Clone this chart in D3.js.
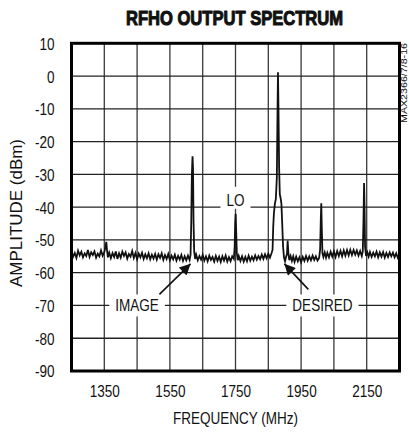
<!DOCTYPE html>
<html><head><meta charset="utf-8">
<script src="https://cdn.jsdelivr.net/npm/d3@7"></script>
<style>
html,body{margin:0;padding:0;background:#fff;}
svg{display:block;}
text{font-family:"Liberation Sans",Arial,sans-serif;fill:#111;}
</style></head>
<body>
<svg id="c" width="409" height="432"></svg>
<script>
// ---- data ----
const title = "RFHO OUTPUT SPECTRUM";
const xTitle = "FREQUENCY (MHz)";
const yTitle = "AMPLITUDE (dBm)";
const partNo = "MAX2366/7/8-16";
const xDomain = [1250, 2250];
const yDomain = [-90, 10];
const xTickLabels = [1350, 1550, 1750, 1950, 2150];
const xGrid = [1350, 1450, 1550, 1650, 1750, 1850, 1950, 2050, 2150];
const yTickLabels = [10, 0, -10, -20, -30, -40, -50, -60, -70, -80, -90];
const yGrid = [0, -10, -20, -30, -40, -50, -60, -70, -80];
// spectrum trace [MHz, dBm]
const spectrum = [
[1250,-53.4],[1255,-55.1],[1260,-54.0],[1265,-55.5],[1270,-53.3],[1275,-54.7],[1280,-53.6],[1285,-55.3],
[1290,-54.1],[1295,-54.9],[1300,-53.1],[1305,-55.2],[1310,-53.8],[1315,-54.6],[1320,-53.5],[1325,-55.4],
[1330,-54.2],[1335,-55.0],[1340,-53.2],[1345,-54.8],[1350,-53.7],[1353,-52.5],[1356,-50.6],[1358,-52.9],
[1361,-55.3],[1365,-53.9],[1370,-55.6],[1375,-54.0],[1380,-55.2],[1385,-53.5],[1390,-55.8],[1395,-54.1],
[1400,-55.4],[1405,-53.6],[1410,-54.9],[1415,-53.8],[1420,-55.7],[1425,-54.3],[1430,-55.1],[1435,-53.4],
[1440,-55.5],[1445,-54.0],[1450,-55.9],[1455,-54.2],[1460,-55.3],[1465,-53.9],[1470,-55.8],[1475,-54.4],
[1480,-55.6],[1485,-54.1],[1490,-55.9],[1495,-54.5],[1500,-55.7],[1505,-54.3],[1510,-56.0],[1515,-54.4],
[1520,-55.5],[1525,-54.1],[1530,-56.1],[1535,-54.6],[1540,-55.8],[1545,-54.3],[1550,-56.2],[1555,-54.8],
[1560,-55.9],[1565,-54.5],[1570,-56.3],[1575,-54.9],[1580,-56.0],[1585,-54.6],[1590,-56.4],[1595,-55.0],
[1600,-56.2],[1605,-54.8],[1610,-56.1],[1613,-54.5],[1615,-45],[1617,-30],[1619,-24.5],[1620.5,-28],
[1622,-44],[1624,-53.5],[1627,-55.8],[1630,-54.5],[1635,-56.2],[1640,-54.9],[1645,-56.0],[1650,-54.6],
[1655,-56.3],[1660,-55.0],[1665,-56.5],[1670,-54.8],[1675,-56.1],[1680,-55.2],[1685,-56.6],[1690,-54.9],
[1695,-56.4],[1700,-55.1],[1705,-56.7],[1710,-55.0],[1715,-56.3],[1720,-54.8],[1725,-56.6],[1730,-55.3],
[1735,-56.5],[1740,-55.0],[1745,-55.8],[1747.5,-52],[1749,-45],[1750.5,-42],[1752,-47],[1754,-54],
[1757,-56.2],[1760,-54.9],[1765,-56.4],[1770,-55.0],[1775,-56.6],[1780,-55.2],[1785,-56.5],[1790,-54.8],
[1795,-56.3],[1800,-55.1],[1805,-56.2],[1810,-54.7],[1815,-56.0],[1820,-54.9],[1825,-55.9],[1830,-54.5],
[1835,-55.8],[1840,-54.4],[1845,-55.6],[1850,-54.2],[1855,-55.4],[1860,-54.0],[1863,-53],[1865,-46],
[1867,-42],[1870,-39],[1873,-37.5],[1876,-31],[1878,-12],[1879.5,1.2],[1881,-10],[1883,-28],
[1885,-36],[1888,-37.5],[1890,-39],[1892,-44],[1895,-52],[1898,-55.5],[1901,-56.5],[1904,-55.2],
[1907,-54.3],[1909,-50.2],[1911,-53.8],[1914,-56.2],[1918,-54.9],[1922,-56.4],[1926,-55.0],[1930,-56.7],
[1935,-55.1],[1940,-56.5],[1945,-55.3],[1950,-56.8],[1955,-55.2],[1960,-56.4],[1965,-54.9],[1970,-56.3],
[1975,-55.0],[1980,-56.2],[1985,-54.8],[1990,-56.1],[1995,-55.0],[2000,-56.3],[2005,-55.5],[2008,-53],
[2010,-44],[2011.5,-38.8],[2013,-46],[2015,-54],[2018,-55.2],[2022,-53.8],[2026,-55.4],[2030,-53.9],
[2035,-55.3],[2040,-53.6],[2045,-55.1],[2050,-53.5],[2055,-55.2],[2060,-53.4],[2065,-54.9],[2070,-53.3],
[2075,-55.0],[2080,-53.2],[2085,-54.8],[2090,-53.1],[2095,-54.7],[2100,-53.0],[2105,-54.6],[2110,-53.1],
[2115,-54.5],[2120,-53.2],[2125,-54.8],[2130,-53.4],[2135,-54.9],[2138,-53.5],[2140,-45],[2142,-32.6],
[2143.5,-40],[2145,-52],[2148,-54.9],[2152,-53.8],[2156,-55.1],[2160,-53.7],[2165,-55.2],[2170,-53.9],
[2175,-55.0],[2180,-53.6],[2185,-55.3],[2190,-53.8],[2195,-55.1],[2200,-53.7],[2205,-55.4],[2210,-54.0],
[2215,-55.2],[2220,-53.8],[2225,-55.0],[2230,-53.9],[2235,-55.3],[2240,-54.1],[2245,-55.5],[2250,-54.6]
];
// annotations: label, label centre [MHz,dBm], arrow tail/tip [MHz,dBm]
const annotations = [
  {text:"IMAGE",   at:[1450,-70], tail:[1518,-66.6], tip:[1613,-57.3]},
  {text:"DESIRED", at:[2015,-70], tail:[1972,-65.1], tip:[1899,-57.3]},
  {text:"LO",      at:[1750,-37.9]}
];

// ---- chart ----
const svg = d3.select("#c");
const L = 71.5, R = 399.5, T = 43.3, B = 371;
const x = d3.scaleLinear().domain(xDomain).range([L, R]);
const y = d3.scaleLinear().domain(yDomain).range([B, T]);
const NARROW = 0.82;
function narrow(sel, len) {
  sel.each(function() {
    const w = len || this.getComputedTextLength() * NARROW;
    d3.select(this).attr("textLength", w).attr("lengthAdjust", "spacingAndGlyphs");
  });
}

// grid
const g = svg.append("g");
g.selectAll("line.v").data(xGrid).join("line")
  .attr("x1", d=>x(d)).attr("x2", d=>x(d)).attr("y1", T).attr("y2", B)
  .attr("stroke", "#3a3a3a").attr("stroke-width", 1.3);
g.selectAll("line.h").data(yGrid).join("line")
  .attr("y1", d=>y(d)).attr("y2", d=>y(d)).attr("x1", L).attr("x2", R)
  .attr("stroke", "#222").attr("stroke-width", 1.3);

// label boxes (white) over grid
const labelFont = 16.5;
const boxes = svg.append("g");
const annTexts = svg.append("g");
annotations.forEach(a => {
  const cy = y(a.at[1]);
  const t = annTexts.append("text")
    .attr("x", x(a.at[0])).attr("y", cy)
    .attr("text-anchor", "middle").attr("dy", "0.36em")
    .attr("font-size", labelFont).text(a.text);
  narrow(t);
  const w = t.node().getComputedTextLength();
  const bx = x(a.at[0]) - w / 2;
  const top = a.tip ? cy - 11 : cy - 13.5;
  const bot = a.tip ? cy + 11 : cy + 8.5;
  boxes.append("rect")
    .attr("x", bx - 6).attr("width", w + 12)
    .attr("y", top).attr("height", bot - top)
    .attr("fill", "#fff");
});

// trace
const line = d3.line().x(d=>x(d[0])).y(d=>y(d[1]));
svg.append("path").datum(spectrum).attr("d", line)
  .attr("fill", "none").attr("stroke", "#111").attr("stroke-width", 1.8)
  .attr("stroke-linejoin", "miter");
boxes.raise(); annTexts.raise();

// arrows
const defs = svg.append("defs");
defs.append("marker").attr("id", "ah").attr("viewBox", "0 0 10 10")
  .attr("refX", 10).attr("refY", 5).attr("markerWidth", 14).attr("markerHeight", 11)
  .attr("markerUnits", "userSpaceOnUse").attr("orient", "auto")
  .append("path").attr("d", "M0,0 L10,5 L0,10 Z").attr("fill", "#111");
annotations.filter(a=>a.tip).forEach(a => {
  svg.append("line")
    .attr("x1", x(a.tail[0])).attr("y1", y(a.tail[1]))
    .attr("x2", x(a.tip[0])).attr("y2", y(a.tip[1]))
    .attr("stroke", "#111").attr("stroke-width", 1.6)
    .attr("marker-end", "url(#ah)");
});

// frame
svg.append("rect").attr("x", L).attr("y", T).attr("width", R-L).attr("height", B-T)
  .attr("fill", "none").attr("stroke", "#000").attr("stroke-width", 3);

// axes (labels only)
const fmt = d => String(d);
const yAxis = d3.axisLeft(y).tickValues(yTickLabels).tickFormat(fmt).tickSize(0).tickPadding(0);
const ya = svg.append("g").attr("transform", `translate(${L-17},0)`).call(yAxis);
ya.select(".domain").remove();
ya.selectAll("text").attr("font-size", 16.5).attr("fill", "#111")
  .attr("dy", "0.36em");
ya.attr("font-family", null);
narrow(ya.selectAll("text"));

const xAxis = d3.axisBottom(x).tickValues(xTickLabels).tickFormat(fmt).tickSize(0).tickPadding(0);
const xa = svg.append("g").attr("transform", `translate(0,${B+14})`).call(xAxis);
xa.select(".domain").remove();
xa.selectAll("text").attr("font-size", 16.5).attr("fill", "#111")
  .attr("dy", "0.71em");
xa.attr("font-family", null);
narrow(xa.selectAll("text"));

// titles
svg.append("text").attr("x", 234.5).attr("y", 25).attr("text-anchor", "middle")
  .attr("font-size", 21).attr("font-weight", "bold")
  .attr("textLength", 217).attr("lengthAdjust", "spacingAndGlyphs")
  .attr("stroke", "#111").attr("stroke-width", 1.1).attr("stroke-linejoin", "round")
  .text(title);
svg.append("text").attr("x", (L+R)/2).attr("y", 424).attr("text-anchor", "middle")
  .attr("font-size", 16.5).text(xTitle).call(narrow, 125);
svg.append("text").attr("transform", `translate(22,${213}) rotate(-90)`)
  .attr("text-anchor", "middle").attr("font-size", 16.5).text(yTitle).call(narrow, 148);
svg.append("text").attr("transform", `translate(407,43) rotate(-90)`)
  .attr("text-anchor", "end").attr("font-size", 8.5)
  .attr("textLength", 80).attr("lengthAdjust", "spacingAndGlyphs")
  .text(partNo);
</script>
</body></html>
